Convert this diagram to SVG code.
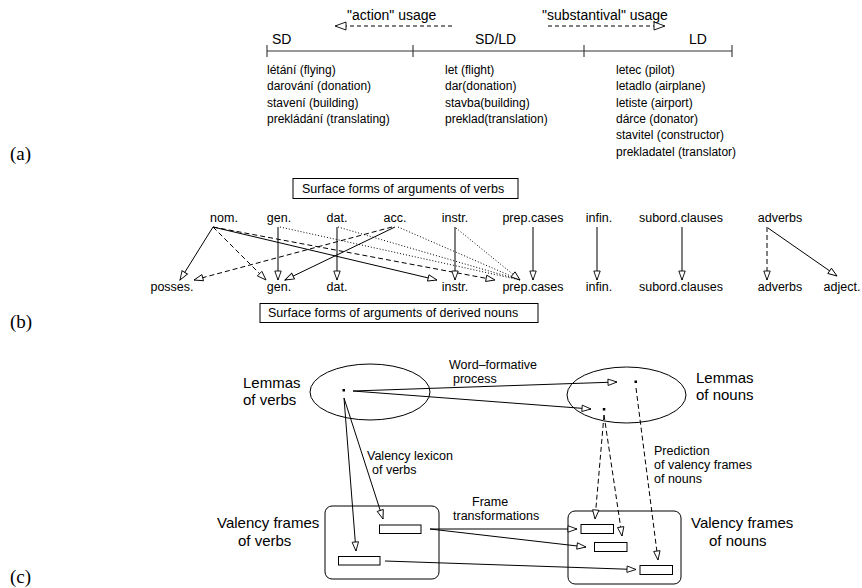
<svg xmlns="http://www.w3.org/2000/svg" width="862" height="588" viewBox="0 0 862 588">
<style>
text{font-family:"Liberation Sans",Arial,sans-serif;fill:#000}
.lab{font-family:"Liberation Serif","Times New Roman",serif;font-size:19px}
.hd{font-size:14px}
.ls{font-size:12px}
.b{font-size:12.5px}
.c{font-size:12.5px}
.big{font-size:15px}
.ln{stroke:#000;stroke-width:1;fill:none}
.ax{stroke:#333;stroke-width:1.1;fill:none}
.da{stroke-dasharray:5,3}
.dt{stroke-dasharray:1,2}
.box{fill:#fff;stroke:#000;stroke-width:1}
</style>
<defs>
<marker id="ah" viewBox="-11 -5 12 10" refX="0" refY="0" markerWidth="12" markerHeight="10" orient="auto" markerUnits="userSpaceOnUse">
<path d="M0,0 L-9,-3.2 L-9,3.2 Z" fill="#fff" stroke="#000" stroke-width="0.9"/>
</marker>
<marker id="ahL" viewBox="-13 -6 14 12" refX="0" refY="0" markerWidth="14" markerHeight="12" orient="auto" markerUnits="userSpaceOnUse">
<path d="M0,0 L-11,-4 L-11,4 Z" fill="#fff" stroke="#000" stroke-width="0.9"/>
</marker>
</defs>

<!-- (a) -->
<g id="panel-a">
<text class="lab" x="10" y="160">(a)</text>
<g id="usage-action">
<text class="hd" x="347" y="20">"action" usage</text>
</g>
<g id="usage-subst">
<text class="hd" x="542" y="20">"substantival" usage</text>
</g>
<g id="axis">
<path class="ax" d="M267,51 H732 M267,45 V57 M413,45 V57 M584,45 V57 M732,45 V57"/>
<text class="hd" x="272" y="44">SD</text>
<text class="hd" x="475" y="44">SD/LD</text>
<text class="hd" x="689" y="44">LD</text>
</g>
<g id="list-sd">
<text class="ls" x="267" y="74">létání (flying)</text>
<text class="ls" x="267" y="90.3">darování (donation)</text>
<text class="ls" x="267" y="106.6">stavení (building)</text>
<text class="ls" x="267" y="123">prekládání (translating)</text>
</g>
<g id="list-sdld">
<text class="ls" x="445" y="74">let (flight)</text>
<text class="ls" x="445" y="90.3">dar(donation)</text>
<text class="ls" x="445" y="106.6">stavba(building)</text>
<text class="ls" x="445" y="123">preklad(translation)</text>
</g>
<g id="list-ld">
<text class="ls" x="616" y="74">letec (pilot)</text>
<text class="ls" x="616" y="90.3">letadlo (airplane)</text>
<text class="ls" x="616" y="106.6">letiste (airport)</text>
<text class="ls" x="616" y="123">dárce (donator)</text>
<text class="ls" x="616" y="139.3">stavitel (constructor)</text>
<text class="ls" x="616" y="155.6">prekladatel (translator)</text>
</g>
</g>

<!-- (b) -->
<g id="panel-b">
<text class="lab" x="10" y="328">(b)</text>
<g id="box-verbs">
<rect class="box" x="293" y="178.5" width="225" height="20"/>
<text class="b" x="302" y="192.5">Surface forms of arguments of verbs</text>
</g>
<g id="box-nouns">
<rect class="box" x="260" y="303.5" width="278" height="19"/>
<text class="b" x="268" y="317">Surface forms of arguments of derived nouns</text>
</g>
<g id="top-labels" class="b" text-anchor="middle">
<text id="t-nom" x="224" y="222">nom.</text>
<text id="t-gen" x="279" y="222">gen.</text>
<text id="t-dat" x="337" y="222">dat.</text>
<text id="t-acc" x="395" y="222">acc.</text>
<text id="t-instr" x="455" y="222">instr.</text>
<text id="t-prep" x="533" y="222">prep.cases</text>
<text id="t-infin" x="599" y="222">infin.</text>
<text id="t-subord" x="681" y="222">subord.clauses</text>
<text id="t-adv" x="780" y="222">adverbs</text>
</g>
<g id="bottom-labels" class="b" text-anchor="middle">
<text id="b-posses" x="172" y="291">posses.</text>
<text id="b-gen" x="279" y="291">gen.</text>
<text id="b-dat" x="337" y="291">dat.</text>
<text id="b-instr" x="455" y="291">instr.</text>
<text id="b-prep" x="533" y="291">prep.cases</text>
<text id="b-infin" x="599" y="291">infin.</text>
<text id="b-subord" x="681" y="291">subord.clauses</text>
<text id="b-adv" x="780" y="291">adverbs</text>
<text id="b-adj" x="842" y="291">adject.</text>
</g>
</g>

<!-- (c) -->
<g id="panel-c">
<text class="lab" x="10" y="583">(c)</text>
<g id="lemmas-verbs">
<ellipse class="ln" cx="370" cy="392" rx="60" ry="28"/>
<rect x="342.5" y="389" width="2.5" height="2.5" fill="#000"/>
<text class="big" x="243" y="388">Lemmas</text>
<text class="big" x="243" y="405">of verbs</text>
</g>
<g id="lemmas-nouns">
<ellipse class="ln" cx="626.5" cy="395" rx="59.5" ry="28"/>
<rect x="634.5" y="380.5" width="2.5" height="2.5" fill="#000"/>
<rect x="602.8" y="408" width="2.5" height="2.5" fill="#000"/>
<text class="big" x="696" y="383">Lemmas</text>
<text class="big" x="696" y="400">of nouns</text>
</g>
<g id="frames-verbs">
<rect class="ln" x="325" y="506" width="114" height="73" rx="7"/>
<rect class="ln" x="379.5" y="525" width="41.5" height="8.5"/>
<rect class="ln" x="338.5" y="556.5" width="41.5" height="8.5"/>
<text class="big" x="217" y="528">Valency frames</text>
<text class="big" x="238" y="546">of verbs</text>
</g>
<g id="frames-nouns">
<rect class="ln" x="568" y="511" width="113" height="73" rx="7"/>
<rect class="ln" x="581" y="524.5" width="32.5" height="9"/>
<rect class="ln" x="594.5" y="542.5" width="32.5" height="9"/>
<rect class="ln" x="640" y="565.5" width="32.5" height="9"/>
<text class="big" x="691" y="528">Valency frames</text>
<text class="big" x="709" y="546">of nouns</text>
</g>
<g id="c-labels" class="c">
<text x="449" y="369">Word–formative</text>
<text x="453" y="383">process</text>
<text x="367" y="460">Valency lexicon</text>
<text x="372" y="474">of verbs</text>
<text x="472" y="506">Frame</text>
<text x="453" y="520">transformations</text>
<text x="654" y="455">Prediction</text>
<text x="654" y="469">of valency frames</text>
<text x="654" y="483">of nouns</text>
</g>
</g>

<g id="connectors">
<!-- (a) usage arrows -->
<path class="ln" stroke-dasharray="4,3" d="M452,26 H335" marker-end="url(#ahL)"/>
<path class="ln" stroke-dasharray="4,3" d="M548,26 H665" marker-end="url(#ahL)"/>
<!-- (b) -->
<path class="ln" d="M213,227 L180,280" marker-end="url(#ah)"/>
<path class="ln da" d="M213,227 L266,280" marker-end="url(#ah)"/>
<path class="ln" d="M213,227 L437,280" marker-end="url(#ah)"/>
<path class="ln da" d="M213,227 L495,280" marker-end="url(#ah)"/>
<path class="ln" d="M278,227 L278,280" marker-end="url(#ah)"/>
<path class="ln dt" d="M280,227 L520,280"/>
<path class="ln" stroke-width="1.5" d="M337,227 L337,280" marker-end="url(#ah)"/>
<path class="ln dt" d="M338,227 L520,280"/>
<path class="ln" d="M395,227 L285,280" marker-end="url(#ah)"/>
<path class="ln da" d="M392,227 L194,280" marker-end="url(#ah)"/>
<path class="ln dt" d="M398,227 L520,280"/>
<path class="ln" d="M455,227 L455,280" marker-end="url(#ah)"/>
<path class="ln dt" d="M456,228 L520,280" marker-end="url(#ah)"/>
<path class="ln" d="M533,227 L533,280" marker-end="url(#ah)"/>
<path class="ln" d="M597,227 L597,280" marker-end="url(#ah)"/>
<path class="ln" d="M682,227 L682,280" marker-end="url(#ah)"/>
<path class="ln da" d="M767,227 L767,280" marker-end="url(#ah)"/>
<path class="ln" d="M768,228 L837,276" marker-end="url(#ah)"/>
<!-- (c) -->
<path class="ln" d="M353,391 L617,382" marker-end="url(#ah)"/>
<path class="ln" d="M353,391 L591,409" marker-end="url(#ah)"/>
<path class="ln" d="M344,398 L356,551" marker-end="url(#ah)"/>
<path class="ln" d="M344,398 L383,519" marker-end="url(#ah)"/>
<path class="ln da" d="M604,415 L595,519" marker-end="url(#ah)"/>
<path class="ln da" d="M604,415 L622,536" marker-end="url(#ah)"/>
<path class="ln da" d="M636,388 L658,560" marker-end="url(#ah)"/>
<path class="ln" d="M430,529 L577,529" marker-end="url(#ah)"/>
<path class="ln" d="M430,529 L586,547" marker-end="url(#ah)"/>
<path class="ln" d="M385,561 L636,569.5" marker-end="url(#ah)"/>
</g>
</svg>
